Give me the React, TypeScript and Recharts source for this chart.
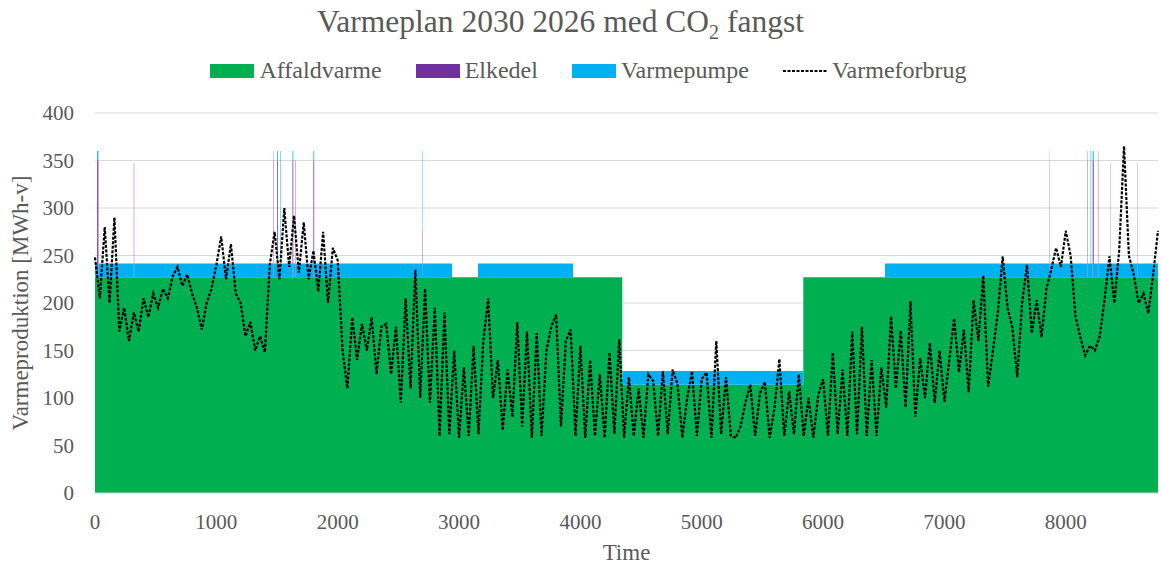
import { Area, CartesianGrid, ComposedChart, Line, XAxis, YAxis } from "recharts";

const HOUR_STEP = 40;
const X_MAX = 8760;
const xTicks = [0, 1000, 2000, 3000, 4000, 5000, 6000, 7000, 8000];
const yTicks = [0, 50, 100, 150, 200, 250, 300, 350, 400];

// Varmeforbrug, read every 40 hours
const varmeforbrug = [
  248, 205, 280, 200, 290, 170, 195, 160, 190, 170,
  205, 185, 210, 195, 215, 205, 228, 238, 218, 230,
  210, 195, 172, 200, 215, 240, 270, 225, 262, 210,
  200, 165, 180, 150, 165, 148, 240, 275, 225, 300,
  238, 292, 232, 285, 225, 255, 212, 275, 200, 258,
  245, 150, 110, 185, 140, 178, 150, 185, 125, 175,
  178, 125, 175, 95, 205, 110, 235, 100, 215, 95,
  195, 60, 190, 62, 150, 58, 132, 60, 155, 62,
  160, 205, 100, 140, 66, 130, 80, 180, 70, 170,
  58, 168, 60, 150, 175, 188, 70, 160, 172, 60,
  155, 58, 140, 60, 125, 58, 148, 62, 162, 58,
  122, 60, 110, 58, 125, 118, 60, 128, 62, 130,
  115, 58, 100, 128, 60, 120, 127, 58, 160, 62,
  122, 60, 58, 70, 95, 114, 60, 105, 117, 58,
  90, 141, 60, 107, 62, 125, 60, 100, 58, 103,
  120, 60, 148, 62, 130, 60, 170, 62, 175, 60,
  140, 60, 132, 90, 186, 110, 171, 90, 202, 80,
  142, 100, 158, 95, 150, 96, 140, 184, 127, 172,
  106, 203, 160, 229, 112, 150, 190, 249, 195, 174,
  122, 200, 240, 168, 203, 164, 215, 235, 258, 238,
  276, 250, 186, 164, 145, 155, 150, 165, 204, 249,
  200, 255, 365, 250, 230, 200, 210, 189, 230, 276,
];

// Affaldvarme: level from the given hour
const affaldStart = [0, 4345, 5837];
const affaldLevel = [227, 114, 227];

// Varmepumpe running periods
const pumpeFrom = [0, 3156, 4345, 6510];
const pumpeTo = [2942, 3939, 5837, 8760];
const pumpeLevel = 14.5;

// Elkedel peaks
const spikeHour = [18, 320, 1470, 1500, 1525, 1628, 1650, 1800, 2700, 7862, 8180, 8205, 8222, 8265, 8365, 8590];
const spikeLength = [10, 3, 3, 6, 4, 6, 3, 6, 3, 2, 3, 4, 8, 3, 2, 2];
const spikeElkedel = [123, 120, 123, 123, 0, 123, 123, 123, 50, 123, 123, 0, 123, 123, 120, 120];
const spikeVarmepumpe = [10, 0, 10, 10, 133, 10, 0, 10, 83, 10, 10, 133, 10, 10, 0, 0];

function buildRows() {
  const marks = new Set<number>();
  varmeforbrug.forEach((_, i) => marks.add(i * HOUR_STEP));
  affaldStart.forEach((h) => marks.add(h));
  pumpeFrom.forEach((h) => marks.add(h));
  pumpeTo.forEach((h) => marks.add(h));
  spikeHour.forEach((h, i) => {
    marks.add(h);
    marks.add(h + spikeLength[i]);
  });
  const hours = [...marks].sort((a, b) => a - b);

  return hours.map((h) => {
    let affald = affaldLevel[0];
    affaldStart.forEach((s, i) => {
      if (h >= s) affald = affaldLevel[i];
    });
    const on = pumpeFrom.some((f, i) => h >= f && (h < pumpeTo[i] || (pumpeTo[i] === X_MAX && h === X_MAX)));
    let elkedel = 0;
    let varmepumpe = on ? pumpeLevel : 0;
    spikeHour.forEach((s, i) => {
      if (h >= s && h < s + spikeLength[i]) {
        elkedel = spikeElkedel[i];
        varmepumpe = spikeVarmepumpe[i];
      }
    });
    const idx = h / HOUR_STEP;
    const forbrug = Number.isInteger(idx) && idx < varmeforbrug.length ? varmeforbrug[idx] : null;
    return { hour: h, affald, elkedel, varmepumpe, forbrug };
  });
}

const rows = buildRows();

const FONT = "'Liberation Serif', 'DejaVu Serif', serif";
const TEXT = "#595959";

const legendItems = [
  { label: "Affaldvarme", color: "#00B050" },
  { label: "Elkedel", color: "#7030A0" },
  { label: "Varmepumpe", color: "#00B0F0" },
  { label: "Varmeforbrug", color: "" },
];

function ChartLegend() {
  return (
    <div
      style={{
        position: "absolute",
        top: 57,
        left: 8,
        width: 1161,
        display: "flex",
        justifyContent: "center",
        gap: 34,
        fontFamily: FONT,
        fontSize: 24,
        color: TEXT,
      }}
    >
      {legendItems.map((item) => (
        <div key={item.label} style={{ display: "flex", alignItems: "center", gap: 5 }}>
          {item.color ? (
            <div style={{ width: 44, height: 14, background: item.color }} />
          ) : (
            <svg width={44} height={14}>
              <line x1={0} y1={7} x2={44} y2={7} stroke="#000" strokeWidth={2} strokeDasharray="3 1.5" />
            </svg>
          )}
          <span>{item.label}</span>
        </div>
      ))}
    </div>
  );
}

const tickStyle = { fill: TEXT, fontSize: 21, fontFamily: FONT };

export default function App() {
  return (
    <div
      style={{
        position: "absolute",
        left: 0,
        top: 0,
        width: 1161,
        height: 570,
        background: "#fff",
        fontFamily: FONT,
      }}
    >
      <div
        style={{
          position: "absolute",
          top: 4,
          left: -20,
          width: 1161,
          textAlign: "center",
          fontFamily: FONT,
          fontSize: 31.5,
          color: TEXT,
        }}
      >
        Varmeplan 2030 2026 med CO<sub style={{ fontSize: 20 }}>2</sub> fangst
      </div>
      <ChartLegend />
      <ComposedChart
        width={1161}
        height={570}
        data={rows}
        margin={{ top: 113, right: 3, left: 0, bottom: 0 }}
        style={{ fontFamily: FONT }}
      >
        <CartesianGrid horizontal vertical={false} stroke="#d9d9d9" />
        <XAxis
          dataKey="hour"
          type="number"
          domain={[0, X_MAX]}
          ticks={xTicks}
          height={77}
          tickSize={0}
          tickMargin={21}
          axisLine={{ stroke: "#d9d9d9" }}
          tickLine={false}
          tick={tickStyle}
          label={{
            value: "Time",
            position: "insideBottom",
            offset: 10,
            fill: TEXT,
            fontSize: 23,
            fontFamily: FONT,
          }}
        />
        <YAxis
          type="number"
          domain={[0, 400]}
          ticks={yTicks}
          width={95}
          tickSize={0}
          tickMargin={21}
          axisLine={false}
          tickLine={false}
          tick={tickStyle}
          label={{
            value: "Varmeproduktion [MWh-v]",
            angle: -90,
            position: "insideLeft",
            offset: 0,
            dx: 20,
            textAnchor: "middle",
            fill: TEXT,
            fontSize: 23,
            fontFamily: FONT,
          }}
        />
        <Area
          type="stepAfter"
          dataKey="affald"
          name="Affaldvarme"
          stackId="prod"
          stroke="none"
          fill="#00B050"
          fillOpacity={1}
          isAnimationActive={false}
        />
        <Area
          type="stepAfter"
          dataKey="elkedel"
          name="Elkedel"
          stackId="prod"
          stroke="none"
          fill="#7030A0"
          fillOpacity={1}
          isAnimationActive={false}
        />
        <Area
          type="stepAfter"
          dataKey="varmepumpe"
          name="Varmepumpe"
          stackId="prod"
          stroke="none"
          fill="#00B0F0"
          fillOpacity={1}
          isAnimationActive={false}
        />
        <Line
          type="linear"
          dataKey="forbrug"
          name="Varmeforbrug"
          stroke="#000"
          strokeWidth={2.2}
          strokeDasharray="3 1.5"
          dot={false}
          activeDot={false}
          connectNulls
          isAnimationActive={false}
        />
      </ComposedChart>
    </div>
  );
}
